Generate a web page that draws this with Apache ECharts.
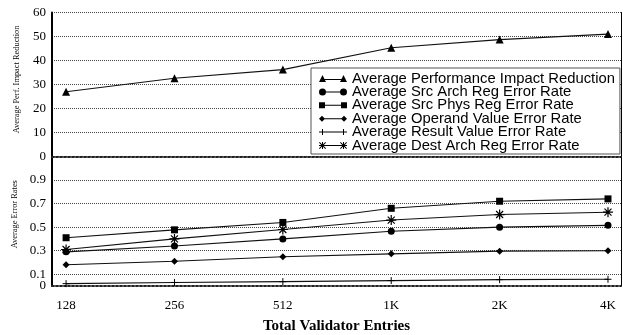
<!DOCTYPE html>
<html>
<head>
<meta charset="utf-8">
<script src="https://cdn.jsdelivr.net/npm/echarts@6/dist/echarts.min.js"></script>
<style>
  html, body { margin: 0; padding: 0; background: #fff; }
  #chart { width: 623px; height: 335px; }
</style>
</head>
<body>
<div id="chart"></div>
<script>
// x categories (validator entries)
const categories = ['128', '256', '512', '1K', '2K', '4K'];
// top panel
const perfReduction = [27, 32.6, 36.2, 45.3, 48.7, 51];
// bottom panel
const srcArchReg = [0.29, 0.34, 0.40, 0.465, 0.50, 0.515];
const srcPhysReg = [0.41, 0.477, 0.54, 0.66, 0.72, 0.74];
const operandValue = [0.18, 0.21, 0.248, 0.273, 0.296, 0.30];
const resultValue = [0.02, 0.03, 0.037, 0.046, 0.054, 0.057];
const destArchReg = [0.31, 0.40, 0.48, 0.56, 0.607, 0.627];
// tick labels of the lower panel
const bottomTicks = [0.1, 0.3, 0.5, 0.7, 0.9];
const bottomZero = [0];
const xTicks = [0, 1, 2, 3, 4, 5];

const serif = 'Liberation Serif';
const chart = echarts.init(document.getElementById('chart'));

function pairs(arr) {
  return arr.map((v, i) => [i, v]);
}

// stroke-only markers
const plusPath = 'path://M0,5L10,5M5,0L5,10';
const starPath = 'path://M0,5L10,5M5,0L5,10M1.5,1.5L8.5,8.5M8.5,1.5L1.5,8.5';

// legend icons: line with a marker at each end
const iconTri = 'path://M0,7L3.5,0L7,7Z M3.5,4H24.5V5H3.5Z M21,7L24.5,0L28,7Z';
const iconCircle = 'path://M0,3.5A3.5,3.5,0,1,1,7,3.5A3.5,3.5,0,1,1,0,3.5Z M3.5,3H24.5V4H3.5Z M21,3.5A3.5,3.5,0,1,1,28,3.5A3.5,3.5,0,1,1,21,3.5Z';
const iconSquare = 'path://M0,0.5H6V6.5H0Z M3,3H25V4H3Z M22,0.5H28V6.5H22Z';
const iconDiamond = 'path://M0,3.5L3,0.5L6,3.5L3,6.5Z M3,3H25V4H3Z M22,3.5L25,0.5L28,3.5L25,6.5Z';
const iconPlus = 'path://M0,3H7V4H0Z M3,0.5H4V6.5H3Z M3.5,3H24.5V4H3.5Z M21,3H28V4H21Z M24,0.5H25V6.5H24Z';
const iconStar = 'path://M0,3H7V4H0Z M3,0H4V7H3Z M0.7,0L7,6.3L6.3,7L0,0.7Z M6.3,0L7,0.7L0.7,7L0,6.3Z ' +
  'M3.5,3H24.5V4H3.5Z ' +
  'M21,3H28V4H21Z M24,0H25V7H24Z M21.7,0L28,6.3L27.3,7L21,0.7Z M27.3,0L28,0.7L21.7,7L21,6.3Z';

const names = [
  'Average Performance Impact Reduction',
  'Average Src Arch Reg Error Rate',
  'Average Src Phys Reg Error Rate',
  'Average Operand Value Error Rate',
  'Average Result Value Error Rate',
  'Average Dest Arch Reg Error Rate'
];

const lineStyle = { color: '#111', width: 1.1 };
const dotted = { type: 'dotted', color: '#444', width: 1 };
const tickFont = { color: '#000', fontFamily: serif, fontSize: 13 };

function xAxisOf(idx, showLabels) {
  return {
    gridIndex: idx,
    type: 'value',
    min: -0.13,
    max: 5.12,
    axisLine: { show: true, onZero: false, lineStyle: { color: '#222', type: 'dotted', width: 2 } },
    axisTick: { show: false, customValues: xTicks },
    splitLine: { show: false },
    axisLabel: Object.assign({
      show: showLabels,
      customValues: xTicks,
      formatter: (v) => categories[Math.round(v)],
      margin: 13
    }, tickFont)
  };
}

function rightAxis(idx) {
  return {
    gridIndex: idx,
    type: 'value',
    position: 'right',
    axisLine: { show: true, onZero: false, lineStyle: { color: '#000', width: 1 } },
    axisTick: { show: false },
    axisLabel: { show: false },
    splitLine: { show: false }
  };
}

const option = {
  animation: false,
  backgroundColor: '#fff',
  grid: [
    { left: 52, right: 2, top: 12.5, height: 144 },
    { left: 52, right: 2, top: 156.5, height: 133 }
  ],
  legend: {
    orient: 'vertical',
    left: 311,
    top: 68,
    padding: [3, 5, 1, 8],
    itemGap: -1.6,
    itemWidth: 28,
    itemHeight: 7,
    selectedMode: false,
    backgroundColor: '#fff',
    borderColor: '#555',
    borderWidth: 1,
    itemStyle: { borderWidth: 0 },
    textStyle: { fontFamily: 'Liberation Sans', fontSize: 14.8, color: '#000' },
    data: [
      { name: names[0], icon: iconTri },
      { name: names[1], icon: iconCircle },
      { name: names[2], icon: iconSquare },
      { name: names[3], icon: iconDiamond },
      { name: names[4], icon: iconPlus },
      { name: names[5], icon: iconStar }
    ]
  },
  xAxis: [
    xAxisOf(0, false),
    Object.assign(xAxisOf(1, true), {
      name: 'Total Validator Entries',
      nameLocation: 'middle',
      nameGap: 33,
      nameTextStyle: { fontFamily: serif, fontSize: 15, fontWeight: 'bold', color: '#000' }
    })
  ],
  yAxis: [
    {
      gridIndex: 0,
      type: 'value',
      position: 'left',
      min: 0,
      max: 60,
      interval: 10,
      name: 'Average Perf. Impact Reduction',
      nameLocation: 'middle',
      nameGap: 31,
      nameTextStyle: { fontFamily: serif, fontSize: 8.4, color: '#000', padding: [0, 0, 0, 10] },
      axisLine: { show: true, onZero: false, lineStyle: { color: '#000', width: 2 } },
      axisTick: { show: false },
      axisLabel: Object.assign({ margin: 6 }, tickFont),
      splitLine: { show: true, lineStyle: dotted }
    },
    {
      gridIndex: 1,
      type: 'value',
      position: 'left',
      min: 0,
      max: 1.1,
      name: 'Average Error Rates',
      nameLocation: 'middle',
      nameGap: 31,
      nameTextStyle: { fontFamily: serif, fontSize: 8.4, color: '#000', padding: [0, 0, 0, 14] },
      axisLine: { show: true, onZero: false, lineStyle: { color: '#000', width: 2 } },
      axisTick: { show: false, customValues: bottomTicks },
      axisLabel: Object.assign({ customValues: bottomTicks, margin: 6 }, tickFont),
      splitLine: { show: true, lineStyle: dotted }
    },
    rightAxis(0),
    rightAxis(1),
    {
      // only the "0" label of the lower panel
      gridIndex: 1,
      type: 'value',
      position: 'left',
      min: 0,
      max: 1.1,
      axisLine: { show: false },
      axisTick: { show: false, customValues: bottomZero },
      axisLabel: Object.assign({ customValues: bottomZero, margin: 6 }, tickFont),
      splitLine: { show: false }
    }
  ],
  series: [
    {
      name: names[0], type: 'line', xAxisIndex: 0, yAxisIndex: 0,
      data: pairs(perfReduction),
      symbol: 'triangle', symbolSize: 8,
      itemStyle: { color: '#000' }, lineStyle: lineStyle
    },
    {
      name: names[1], type: 'line', xAxisIndex: 1, yAxisIndex: 1,
      data: pairs(srcArchReg),
      symbol: 'circle', symbolSize: 7,
      itemStyle: { color: '#000' }, lineStyle: lineStyle
    },
    {
      name: names[2], type: 'line', xAxisIndex: 1, yAxisIndex: 1,
      data: pairs(srcPhysReg),
      symbol: 'rect', symbolSize: 7,
      itemStyle: { color: '#000' }, lineStyle: lineStyle
    },
    {
      name: names[3], type: 'line', xAxisIndex: 1, yAxisIndex: 1,
      data: pairs(operandValue),
      symbol: 'diamond', symbolSize: 7,
      itemStyle: { color: '#000' }, lineStyle: lineStyle
    },
    {
      name: names[4], type: 'line', xAxisIndex: 1, yAxisIndex: 1,
      data: pairs(resultValue),
      symbol: plusPath, symbolSize: 7,
      itemStyle: { color: '#000', borderColor: '#000', borderWidth: 1 }, lineStyle: lineStyle
    },
    {
      name: names[5], type: 'line', xAxisIndex: 1, yAxisIndex: 1,
      data: pairs(destArchReg),
      symbol: starPath, symbolSize: 10,
      itemStyle: { color: '#000', borderColor: '#000', borderWidth: 1.2 }, lineStyle: lineStyle
    }
  ]
};

chart.setOption(option);
</script>
</body>
</html>
